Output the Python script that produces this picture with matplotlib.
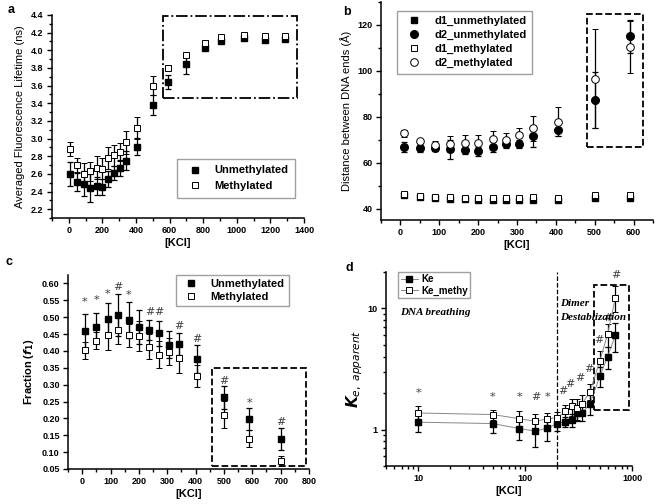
import numpy as np
import matplotlib
matplotlib.use('Agg')
import matplotlib.pyplot as plt
from matplotlib.patches import Rectangle
from matplotlib.ticker import MultipleLocator, FuncFormatter, NullFormatter

plt.rcParams['font.family'] = ['Liberation Sans', 'DejaVu Sans']

# ---- panel a: averaged fluorescence lifetime
kcl_a = [10, 50, 90, 125, 165, 200, 235, 270, 305, 340, 405, 500, 590, 700, 810, 905, 1045, 1170, 1285]
life_un = [2.60, 2.51, 2.49, 2.44, 2.46, 2.45, 2.54, 2.61, 2.67, 2.75, 2.91, 3.38, 3.64, 3.84, 4.03, 4.10, 4.14, 4.12, 4.13]
life_un_err = [0.14, 0.10, 0.14, 0.16, 0.10, 0.09, 0.09, 0.08, 0.09, 0.11, 0.10, 0.11, 0.08, 0.11, 0.02, 0.02, 0.02, 0.02, 0.02]
life_me = [2.88, 2.70, 2.60, 2.63, 2.67, 2.66, 2.78, 2.81, 2.85, 2.96, 3.12, 3.60, 3.80, 3.95, 4.08, 4.15, 4.17, 4.16, 4.16]
life_me_err = [0.08, 0.08, 0.12, 0.11, 0.13, 0.12, 0.12, 0.12, 0.10, 0.13, 0.13, 0.11, 0.03, 0.02, 0.02, 0.02, 0.02, 0.02, 0.02]

# ---- panel b: distance between DNA ends
kcl_b = [10, 50, 90, 128, 165, 200, 237, 272, 305, 340, 405, 500, 590]
d1_un = [45.8, 45.0, 44.8, 44.2, 44.0, 43.5, 43.8, 43.8, 43.6, 43.8, 43.8, 44.8, 44.8]
d1_me = [46.5, 45.6, 45.2, 45.0, 44.8, 44.6, 44.6, 44.4, 44.4, 45.0, 44.8, 46.0, 45.8]
d1_err = [0.6, 0.5, 0.5, 0.5, 0.5, 0.5, 0.5, 0.5, 0.5, 0.5, 0.5, 0.6, 0.6]
d2_un = [66.8, 66.2, 66.4, 65.8, 65.6, 65.0, 67.0, 68.2, 68.2, 71.4, 74.4, 87.3, 115.0]
d2_un_err = [2.2, 1.5, 1.5, 4.0, 2.0, 2.0, 2.5, 2.0, 1.8, 4.6, 3.0, 12.0, 7.2]
d2_me = [72.8, 69.4, 67.8, 68.2, 68.4, 68.4, 70.2, 70.0, 72.0, 75.0, 77.9, 96.6, 110.4]
d2_me_err = [1.5, 1.0, 1.8, 3.5, 3.5, 3.8, 3.5, 2.9, 3.3, 5.5, 6.3, 21.5, 11.5]

# ---- panel c: fraction f1
kcl_c = [10, 50, 90, 125, 165, 200, 237, 272, 305, 340, 405, 500, 590, 700]
fr_un = [0.458, 0.472, 0.496, 0.506, 0.492, 0.470, 0.462, 0.452, 0.418, 0.420, 0.376, 0.262, 0.198, 0.140]
fr_un_err = [0.050, 0.040, 0.045, 0.063, 0.053, 0.050, 0.030, 0.037, 0.040, 0.032, 0.042, 0.035, 0.033, 0.033]
fr_me = [0.402, 0.430, 0.446, 0.461, 0.446, 0.445, 0.412, 0.388, 0.398, 0.380, 0.325, 0.211, 0.140, 0.074]
fr_me_err = [0.025, 0.025, 0.042, 0.040, 0.033, 0.045, 0.037, 0.040, 0.040, 0.045, 0.033, 0.040, 0.025, 0.015]
sig_c = ['*', '*', '*', '#', '*', '', '#', '#', '', '#', '#', '#', '*', '#']
sig_c_y = [0.545, 0.55, 0.57, 0.59, 0.565, 0, 0.515, 0.515, 0, 0.475, 0.435, 0.31, 0.245, 0.19]

# ---- panel d: Ke apparent
kcl_d = [10, 50, 88, 125, 162, 200, 237, 272, 305, 340, 405, 500, 590, 700]
ke = [1.15, 1.12, 1.02, 0.97, 1.03, 1.12, 1.16, 1.20, 1.37, 1.37, 1.63, 2.76, 3.98, 6.0]
ke_err = [0.20, 0.18, 0.20, 0.25, 0.22, 0.15, 0.12, 0.15, 0.20, 0.20, 0.30, 0.50, 0.80, 1.60]
ke_me = [1.37, 1.33, 1.23, 1.17, 1.23, 1.25, 1.41, 1.55, 1.50, 1.62, 2.06, 3.69, 6.1, 12.3]
ke_me_err = [0.20, 0.12, 0.20, 0.18, 0.15, 0.15, 0.20, 0.25, 0.30, 0.30, 0.30, 0.80, 1.30, 3.0]
sig_d = ['*', '*', '*', '#', '*', '#', '#', '#', '#', '#', '#', '#']
sig_d_x = [10, 50, 88, 125, 162, 225, 262, 326, 395, 490, 600, 700]
sig_d_y = [2.0, 1.87, 1.87, 1.87, 1.87, 2.1, 2.4, 2.68, 3.19, 5.5, 8.4, 19.0]

W, H = 656, 504
fig = plt.figure(figsize=(W / 100, H / 100), dpi=100)

def axes_px(l, r, t, b):
    return fig.add_axes([l / W, 1 - b / H, (r - l) / W, (b - t) / H])

def style(ax):
    ax.spines['top'].set_visible(False)
    ax.spines['right'].set_visible(False)
    ax.tick_params(which='both', direction='out', labelsize=6.5, width=1, pad=2.5)
    ax.tick_params(which='major', length=3.5)
    ax.tick_params(which='minor', length=2)
    for s in ['left', 'bottom']:
        ax.spines[s].set_linewidth(1.1)
    for lab in ax.get_xticklabels() + ax.get_yticklabels():
        lab.set_fontweight('bold')

eb = dict(ecolor='black', elinewidth=0.9, capsize=2, capthick=0.9, linestyle='none')

# ---------------- a
ax = axes_px(52, 304, 15, 218)
ax.errorbar(kcl_a, life_un, yerr=life_un_err, marker='s', ms=4.5, mfc='black', mec='black', label='Unmethylated', **eb)
ax.errorbar(kcl_a, life_me, yerr=life_me_err, marker='s', ms=4.5, mfc='white', mec='black', mew=0.7, label='Methylated', **eb)
ax.add_patch(Rectangle((558, 3.46), 800, 0.93, fill=False, ls='-.', lw=1.3, ec='black'))
ax.set_xlim(-100, 1400)
ax.set_ylim(2.1, 4.4)
ax.xaxis.set_major_locator(MultipleLocator(200))
ax.xaxis.set_minor_locator(MultipleLocator(100))
ax.yaxis.set_major_locator(MultipleLocator(0.2))
ax.yaxis.set_minor_locator(MultipleLocator(0.1))
style(ax)
ax.set_xlabel('[KCl]', fontsize=8, fontweight='bold', labelpad=2)
ax.set_ylabel('Averaged Fluorescence Lifetime (ns)', fontsize=8)
h, l = ax.get_legend_handles_labels()
h = [x[0] for x in h]
ax.legend(h, l, loc='lower right', bbox_to_anchor=(0.965, 0.10), prop={'weight': 'bold', 'size': 8},
          frameon=True, fancybox=False, edgecolor='#888888', handletextpad=0.8, borderpad=0.6, labelspacing=0.5,
          borderaxespad=0)
fig.text(8 / W, 1 - 10 / H, 'a', fontsize=9, fontweight='bold', va='center')

# ---------------- b
ax = axes_px(381, 653, 2, 220)
ax.errorbar(kcl_b, d1_un, yerr=d1_err, marker='s', ms=4.5, mfc='black', mec='black', label='d1_unmethylated', **eb)
ax.errorbar(kcl_b, d2_un, yerr=d2_un_err, marker='o', ms=5.5, mfc='black', mec='black', label='d2_unmethylated', **eb)
ax.errorbar(kcl_b, d1_me, yerr=d1_err, marker='s', ms=4.5, mfc='white', mec='black', mew=0.7, label='d1_methylated', **eb)
ax.errorbar(kcl_b, d2_me, yerr=d2_me_err, marker='o', ms=5.5, mfc='white', mec='black', mew=0.7, label='d2_methylated', **eb)
ax.add_patch(Rectangle((481, 66.6), 142, 58.1, fill=False, ls='--', lw=1.3, ec='black'))
ax.set_xlim(-50, 650)
ax.set_ylim(35, 130)
ax.xaxis.set_major_locator(MultipleLocator(100))
ax.xaxis.set_minor_locator(MultipleLocator(50))
ax.yaxis.set_major_locator(MultipleLocator(20))
ax.yaxis.set_minor_locator(MultipleLocator(10))
style(ax)
ax.set_xlabel('[KCl]', fontsize=8, fontweight='bold', labelpad=2)
ax.set_ylabel('Distance between DNA ends (Å)', fontsize=8)
h, l = ax.get_legend_handles_labels()
h = [x[0] for x in h]
ax.legend(h, l, loc='upper left', bbox_to_anchor=(0.04, 0.985), prop={'weight': 'bold', 'size': 8},
          frameon=True, fancybox=False, edgecolor='#888888', handletextpad=0.8, borderpad=0.5, labelspacing=0.35)
fig.text(343 / W, 1 - 12 / H, 'b', fontsize=9, fontweight='bold', va='center')

# ---------------- c
ax = axes_px(68, 309, 275, 469)
ax.errorbar(kcl_c, fr_un, yerr=fr_un_err, marker='s', ms=4.5, mfc='black', mec='black', label='Unmethylated', **eb)
ax.errorbar(kcl_c, fr_me, yerr=fr_me_err, marker='s', ms=4.5, mfc='white', mec='black', mew=0.7, label='Methylated', **eb)
for x, s, y in zip(kcl_c, sig_c, sig_c_y):
    if s:
        ax.text(x, y, s, ha='center', va='center', fontsize=8, color='#444444', family='DejaVu Serif')
ax.add_patch(Rectangle((459, 0.058), 332, 0.29, fill=False, ls='--', lw=1.3, ec='black'))
ax.set_xlim(-50, 800)
ax.set_ylim(0.05, 0.625)
ax.xaxis.set_major_locator(MultipleLocator(100))
ax.xaxis.set_minor_locator(MultipleLocator(50))
ax.yaxis.set_major_locator(MultipleLocator(0.05))
style(ax)
ax.set_xlabel('[KCl]', fontsize=8, fontweight='bold', labelpad=2)
ax.set_ylabel(r'Fraction ($\mathbfit{f}_\mathbf{1}$)', fontsize=8, fontweight='bold')
h, l = ax.get_legend_handles_labels()
h = [x[0] for x in h]
ax.legend(h, l, loc='upper right', bbox_to_anchor=(0.915, 1.0), prop={'weight': 'bold', 'size': 8},
          frameon=True, fancybox=False, edgecolor='#888888', handletextpad=0.8, borderpad=0.35, labelspacing=0.25,
          borderaxespad=0)
fig.text(5 / W, 1 - 262 / H, 'c', fontsize=9, fontweight='bold', va='center')

# ---------------- d
ax = axes_px(386, 632, 272, 466)
ax.set_xscale('log')
ax.set_yscale('log')
ax.errorbar(kcl_d, ke, yerr=ke_err, marker='s', ms=4.5, mfc='black', mec='black', color='#888888', lw=0.7,
            ecolor='black', elinewidth=0.9, capsize=2, capthick=0.9, label='Ke')
ax.errorbar(kcl_d, ke_me, yerr=ke_me_err, marker='s', ms=4.5, mfc='white', mec='black', mew=0.7, color='#888888', lw=0.7,
            ecolor='black', elinewidth=0.9, capsize=2, capthick=0.9, label='Ke_methy')
for x, s, y in zip(sig_d_x, sig_d, sig_d_y):
    ax.text(x, y, s, ha='center', va='center', fontsize=8, color='#444444', family='DejaVu Serif')
ax.axvline(200, color='black', ls='--', lw=0.9)
ax.add_patch(Rectangle((440, 1.46), 490, 14.3, fill=False, ls='--', lw=1.3, ec='black'))
ax.text(6.7, 9.3, 'DNA breathing', fontsize=8, fontweight='bold', style='italic', family='Liberation Serif', va='center')
ax.text(211, 10.9, 'Dimer', fontsize=8, fontweight='bold', style='italic', family='Liberation Serif', va='center')
ax.text(211, 8.4, 'Destablization', fontsize=8, fontweight='bold', style='italic', family='Liberation Serif', va='center')
ax.set_xlim(5, 1000)
ax.set_ylim(0.5, 20)
plain = FuncFormatter(lambda v, p: '%g' % v)
ax.xaxis.set_major_formatter(plain)
ax.yaxis.set_major_formatter(plain)
ax.xaxis.set_minor_formatter(NullFormatter())
ax.yaxis.set_minor_formatter(NullFormatter())
style(ax)
ax.set_xlabel('[KCl]', fontsize=8, fontweight='bold', labelpad=2)
ax.set_ylabel(r'$\mathbfit{K}_{\mathit{e,\ apparent}}$', fontsize=11, labelpad=2)
h, l = ax.get_legend_handles_labels()
h = [x[0] for x in h]
ax.legend(h, l, loc='upper left', bbox_to_anchor=(0.05, 1.0), prop={'weight': 'bold', 'size': 7},
          frameon=True, fancybox=False, edgecolor='#888888', handletextpad=0.3, handlelength=1.8, borderpad=0.25,
          labelspacing=0.15, borderaxespad=0)
fig.text(346 / W, 1 - 268 / H, 'd', fontsize=9, fontweight='bold', va='center')

fig.savefig('out.png', dpi=100)
